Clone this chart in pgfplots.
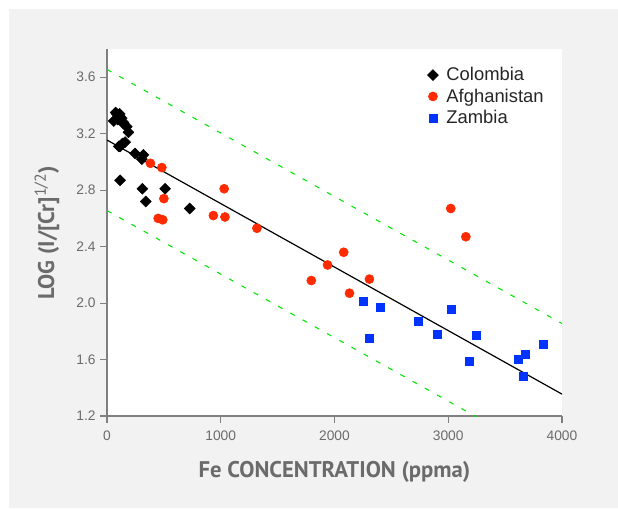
\documentclass[border=0pt]{standalone}
\usepackage{fontspec}
\setmainfont{Liberation Sans}
\newfontfamily\labelfont{PT Sans}
\usepackage{pgfplots}
\pgfplotsset{compat=1.18}

\definecolor{panelgray}{HTML}{F2F2F2}
\definecolor{axgray}{HTML}{808080}
\definecolor{txtgray}{HTML}{6B6B6B}
\definecolor{ptred}{HTML}{FF2A00}
\definecolor{ptblue}{HTML}{0033FF}
\definecolor{fitgreen}{HTML}{00E600}

\begin{document}
\begin{tikzpicture}[x=1pt,y=1pt]
\useasboundingbox (0,0) rectangle (463.5,381);
\fill[panelgray] (6.75,0) rectangle (463.5,374.25);
\begin{axis}[
    at={(80.25pt,69pt)}, anchor=south west,
    scale only axis,
    width=341.25pt, height=275.25pt,
    xmin=0, xmax=4000, ymin=1.2, ymax=3.8,
    axis background/.style={fill=white},
    axis x line*=bottom, axis y line*=left,
    axis line style={axgray, line width=0.8pt},
    tick align=outside, major tick length=5pt,
    tick style={axgray, line width=0.8pt},
    xtick={0,1000,2000,3000,4000},
    ytick={1.2,1.6,2.0,2.4,2.8,3.2,3.6},
    /pgf/number format/assume math mode=true,
    /pgf/number format/1000 sep={},
    yticklabel style={/pgf/number format/.cd, fixed, fixed zerofill, precision=1},
    xticklabel style={yshift=-2.5pt},
    ticklabel style={font=\fontsize{10.35}{12}\selectfont, text=txtgray},
    xlabel={Fe CONCENTRATION (ppma)},
    ylabel={LOG (I/[Cr]\textsuperscript{\mdseries 1/2})},
    label style={font=\labelfont\bfseries\fontsize{17}{19}\selectfont, text=txtgray},
    xlabel style={at={(axis description cs:0.5,-0.153)}, anchor=center},
    ylabel style={at={(axis description cs:-0.132,0.5)}, anchor=center},
    legend style={draw=none, fill=none, at={(0.695,0.965)}, anchor=north west,
        font=\fontsize{13.8}{16}\selectfont, text=black!85, row sep=0.5pt,
        /tikz/every odd column/.append style={column sep=4pt}},
    legend cell align=left,
]
\addplot[only marks, mark=square*, mark size=2.9pt, mark options={rotate=45, fill=black, draw=black}] coordinates {
(59,3.29)(76,3.35)(85,3.34)(111,3.34)(94,3.30)(115,3.32)(129,3.31)
(144,3.28)(146,3.27)(174,3.25)(188,3.21)(104,3.11)(115,3.11)(136,3.13)
(159,3.14)(247,3.06)(306,3.02)(320,3.05)(115,2.87)(311,2.81)(341,2.72)
(511,2.81)(727,2.67)
};
\addlegendentry{Colombia}
\addplot[only marks, mark=*, mark size=3.4pt, mark options={fill=ptred, draw=ptred}] coordinates {
(382,2.99)(482,2.96)(500,2.74)(450,2.60)(490,2.59)(935,2.62)(1030,2.81)
(1037,2.61)(1318,2.53)(1796,2.16)(1939,2.27)(2081,2.36)(2132,2.07)
(2307,2.17)(3022,2.67)(3155,2.47)
};
\addlegendentry{Afghanistan}
\addplot[only marks, mark=square*, mark size=3pt, mark options={fill=ptblue, draw=ptblue}] coordinates {
(2255,2.01)(2402,1.97)(2302,1.75)(2737,1.87)(2906,1.78)(3027,1.955)
(3245,1.775)(3188,1.585)(3616,1.60)(3680,1.635)(3657,1.48)(3835,1.708)
};
\addlegendentry{Zambia}
\addplot[forget plot, black, line width=0.9pt] coordinates {(0,3.155)(4000,1.355)};
\addplot[forget plot, fitgreen, line width=0.8pt, dash pattern=on 3.75pt off 6.75pt] coordinates {(0,3.655)(4000,1.855)};
\addplot[forget plot, fitgreen, line width=0.8pt, dash pattern=on 3.75pt off 6.75pt] coordinates {(0,2.655)(4000,0.855)};
\end{axis}
\end{tikzpicture}
\end{document}
